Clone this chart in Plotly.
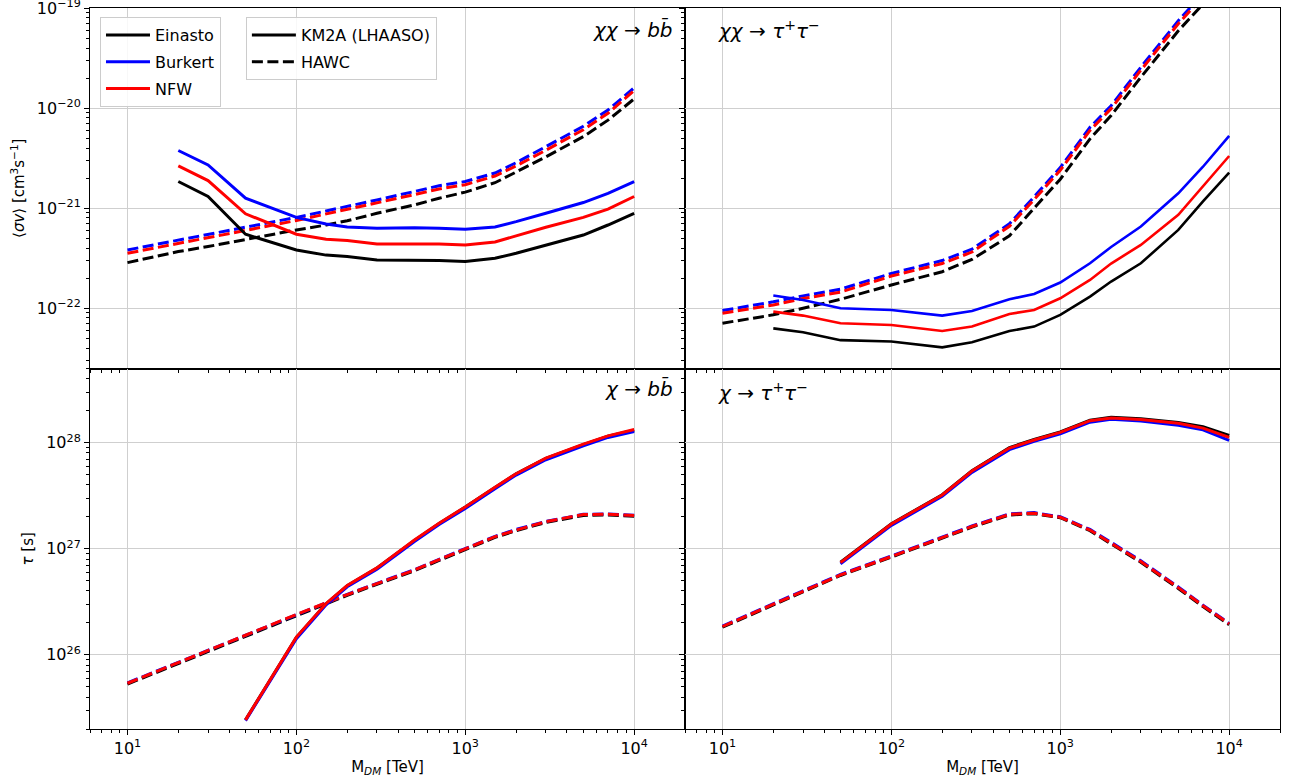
import numpy as np
import plotly.graph_objects as go
from plotly.subplots import make_subplots

# ---------------- data ----------------
# Top-left: chi chi -> b bbar (annihilation cross-section, cm^3 s^-1)
m_ann_bb_km2a = [20, 30, 50, 100, 150, 200, 300, 500, 700, 1000, 1500, 2000, 3000, 5000, 7000, 10000]
ein_ann_bb_km2a = [1.85e-21, 1.31e-21, 5.5e-22, 3.83e-22, 3.4e-22, 3.3e-22, 3.04e-22, 3.04e-22, 3.0e-22,
                   2.93e-22, 3.16e-22, 3.55e-22, 4.3e-22, 5.4e-22, 6.8e-22, 8.9e-22]
bur_ann_bb_km2a = [3.78e-21, 2.71e-21, 1.26e-21, 8.1e-22, 6.97e-22, 6.5e-22, 6.3e-22, 6.4e-22, 6.3e-22,
                   6.17e-22, 6.5e-22, 7.35e-22, 8.9e-22, 1.14e-21, 1.41e-21, 1.85e-21]
nfw_ann_bb_km2a = [2.65e-21, 1.89e-21, 8.8e-22, 5.5e-22, 4.9e-22, 4.75e-22, 4.4e-22, 4.4e-22, 4.4e-22,
                   4.3e-22, 4.6e-22, 5.3e-22, 6.45e-22, 8.1e-22, 9.8e-22, 1.31e-21]
m_ann_bb_hawc = [10, 20, 30, 50, 100, 150, 200, 300, 500, 700, 1000, 1500, 2000, 3000, 5000, 7000, 10000]
ein_ann_bb_hawc = [2.86e-22, 3.69e-22, 4.14e-22, 4.9e-22, 6.07e-22, 6.8e-22, 7.5e-22, 8.9e-22, 1.08e-21,
                   1.26e-21, 1.45e-21, 1.8e-21, 2.31e-21, 3.26e-21, 5.2e-21, 7.6e-21, 1.24e-20]
bur_ann_bb_hawc = [3.83e-22, 4.8e-22, 5.4e-22, 6.45e-22, 8.1e-22, 9.4e-22, 1.04e-21, 1.21e-21, 1.47e-21,
                   1.68e-21, 1.85e-21, 2.25e-21, 2.85e-21, 4.1e-21, 6.6e-21, 9.6e-21, 1.6e-20]
nfw_ann_bb_hawc = [3.55e-22, 4.45e-22, 5.0e-22, 6.0e-22, 7.55e-22, 8.75e-22, 9.7e-22, 1.13e-21, 1.37e-21,
                   1.56e-21, 1.72e-21, 2.1e-21, 2.65e-21, 3.8e-21, 6.1e-21, 8.9e-21, 1.5e-20]

# Top-right: chi chi -> tau+ tau-
m_ann_tt_km2a = [20, 30, 50, 100, 200, 300, 500, 700, 1000, 1500, 2000, 3000, 5000, 7000, 10000]
ein_ann_tt_km2a = [6.3e-23, 5.75e-23, 4.8e-23, 4.65e-23, 4.07e-23, 4.57e-23, 5.93e-23, 6.56e-23, 8.6e-23,
                   1.31e-22, 1.85e-22, 2.82e-22, 6.07e-22, 1.17e-21, 2.27e-21]
bur_ann_tt_km2a = [1.34e-22, 1.21e-22, 1.0e-22, 9.6e-23, 8.45e-23, 9.4e-23, 1.23e-22, 1.39e-22, 1.81e-22,
                   2.82e-22, 4.1e-22, 6.56e-22, 1.41e-21, 2.6e-21, 5.3e-21]
nfw_ann_tt_km2a = [9.26e-23, 8.45e-23, 7.08e-23, 6.8e-23, 5.93e-23, 6.56e-23, 8.77e-23, 9.6e-23, 1.26e-22,
                   1.92e-22, 2.8e-22, 4.3e-22, 8.6e-22, 1.65e-21, 3.33e-21]
m_ann_tt_hawc = [10, 20, 30, 50, 100, 200, 300, 500, 700, 1000, 1500, 2000, 3000, 5000, 7000, 10000]
ein_ann_tt_hawc = [7.1e-23, 8.6e-23, 1.0e-22, 1.23e-22, 1.71e-22, 2.32e-22, 3.08e-22, 5.3e-22, 1.0e-21,
                   1.95e-21, 4.94e-21, 8.45e-21, 2.04e-20, 5.94e-20, 1.1e-19, 2.2e-19]
bur_ann_tt_hawc = [9.5e-23, 1.16e-22, 1.33e-22, 1.55e-22, 2.23e-22, 3.0e-22, 3.9e-22, 7.0e-22, 1.3e-21,
                   2.55e-21, 6.45e-21, 1.06e-20, 2.57e-20, 7.5e-20, 1.4e-19, 2.8e-19]
nfw_ann_tt_hawc = [8.9e-23, 1.08e-22, 1.25e-22, 1.45e-22, 2.1e-22, 2.8e-22, 3.65e-22, 6.6e-22, 1.22e-21,
                   2.4e-21, 6.0e-21, 9.9e-21, 2.4e-20, 7.0e-20, 1.3e-19, 2.6e-19]

# Bottom-left: chi -> b bbar (lifetime, s)
m_dec_bb_km2a = [50, 100, 150, 200, 300, 500, 700, 1000, 1500, 2000, 3000, 5000, 7000, 10000]
ein_dec_bb_km2a = [2.44e25, 1.46e26, 3.03e26, 4.48e26, 6.58e26, 1.2e27, 1.73e27, 2.47e27, 3.78e27, 5.08e27,
                   7.1e27, 9.6e27, 1.15e28, 1.31e28]
bur_dec_bb_km2a = [2.4e25, 1.42e26, 2.96e26, 4.38e26, 6.4e26, 1.17e27, 1.69e27, 2.4e27, 3.68e27, 4.95e27,
                   6.9e27, 9.35e27, 1.12e28, 1.27e28]
nfw_dec_bb_km2a = [2.44e25, 1.47e26, 3.05e26, 4.5e26, 6.6e26, 1.21e27, 1.74e27, 2.48e27, 3.8e27, 5.1e27,
                   7.15e27, 9.7e27, 1.16e28, 1.33e28]
m_dec_bb_hawc = [10, 20, 30, 50, 100, 150, 200, 300, 500, 700, 1000, 1500, 2000, 3000, 5000, 7000, 10000]
ein_dec_bb_hawc = [5.3e25, 8.3e25, 1.07e26, 1.5e26, 2.36e26, 3.05e26, 3.64e26, 4.62e26, 6.2e26, 7.75e26,
                   9.85e26, 1.28e27, 1.48e27, 1.77e27, 2.06e27, 2.08e27, 2.02e27]
bur_dec_bb_hawc = [5.45e25, 8.5e25, 1.1e26, 1.54e26, 2.42e26, 3.12e26, 3.72e26, 4.72e26, 6.35e26, 7.95e26,
                   1.01e27, 1.31e27, 1.52e27, 1.81e27, 2.11e27, 2.13e27, 2.07e27]
nfw_dec_bb_hawc = [5.4e25, 8.4e25, 1.09e26, 1.53e26, 2.4e26, 3.1e26, 3.7e26, 4.7e26, 6.3e26, 7.9e26,
                   1.0e27, 1.3e27, 1.5e27, 1.8e27, 2.1e27, 2.12e27, 2.06e27]

# Bottom-right: chi -> tau+ tau-
m_dec_tt_km2a = [50, 100, 200, 300, 500, 700, 1000, 1500, 2000, 3000, 5000, 7000, 10000]
ein_dec_tt_km2a = [7.45e26, 1.72e27, 3.23e27, 5.45e27, 9.0e27, 1.07e28, 1.26e28, 1.63e28, 1.74e28, 1.68e28,
                   1.55e28, 1.41e28, 1.17e28]
bur_dec_tt_km2a = [7.2e26, 1.66e27, 3.12e27, 5.25e27, 8.6e27, 1.03e28, 1.21e28, 1.56e28, 1.66e28, 1.6e28,
                   1.46e28, 1.32e28, 1.05e28]
nfw_dec_tt_km2a = [7.4e26, 1.71e27, 3.21e27, 5.4e27, 8.9e27, 1.06e28, 1.25e28, 1.61e28, 1.71e28, 1.65e28,
                   1.52e28, 1.37e28, 1.12e28]
m_dec_tt_hawc = [10, 20, 30, 50, 100, 200, 300, 500, 700, 1000, 1500, 2000, 3000, 5000, 7000, 10000]
ein_dec_tt_hawc = [1.82e26, 2.95e26, 3.93e26, 5.6e26, 8.35e26, 1.25e27, 1.6e27, 2.08e27, 2.14e27, 1.96e27,
                   1.48e27, 1.11e27, 7.45e26, 4.22e26, 2.85e26, 1.92e26]
bur_dec_tt_hawc = [1.87e26, 3.03e26, 4.05e26, 5.74e26, 8.55e26, 1.29e27, 1.64e27, 2.13e27, 2.19e27, 2.0e27,
                   1.52e27, 1.15e27, 7.7e26, 4.36e26, 2.94e26, 1.98e26]
nfw_dec_tt_hawc = [1.85e26, 3.0e26, 4.0e26, 5.67e26, 8.45e26, 1.27e27, 1.62e27, 2.11e27, 2.16e27, 1.98e27,
                   1.5e27, 1.13e27, 7.57e26, 4.3e26, 2.9e26, 1.96e26]

profiles = ["Einasto", "Burkert", "NFW"]
colors = {"Einasto": "black", "Burkert": "blue", "NFW": "red"}
detectors = ["KM2A (LHAASO)", "HAWC"]

x_ticks = [10, 100, 1000, 10000]
x_ticktext = ["10<sup>1</sup>", "10<sup>2</sup>", "10<sup>3</sup>", "10<sup>4</sup>"]
y_top_ticks = [1e-22, 1e-21, 1e-20, 1e-19]
y_top_ticktext = ["10<sup>\u221222</sup>", "10<sup>\u221221</sup>", "10<sup>\u221220</sup>", "10<sup>\u221219</sup>"]
y_bot_ticks = [1e26, 1e27, 1e28]
y_bot_ticktext = ["10<sup>26</sup>", "10<sup>27</sup>", "10<sup>28</sup>"]

# ---------------- figure ----------------
fig = make_subplots(rows=2, cols=2, shared_xaxes=True, shared_yaxes=True,
                    horizontal_spacing=0, vertical_spacing=0)

DASH = "11px,4.5px"

panels = [
    (1, 1, m_ann_bb_km2a, [ein_ann_bb_km2a, bur_ann_bb_km2a, nfw_ann_bb_km2a],
     m_ann_bb_hawc, [ein_ann_bb_hawc, bur_ann_bb_hawc, nfw_ann_bb_hawc], 3.0),
    (1, 2, m_ann_tt_km2a, [ein_ann_tt_km2a, bur_ann_tt_km2a, nfw_ann_tt_km2a],
     m_ann_tt_hawc, [ein_ann_tt_hawc, bur_ann_tt_hawc, nfw_ann_tt_hawc], 2.6),
    (2, 1, m_dec_bb_km2a, [ein_dec_bb_km2a, bur_dec_bb_km2a, nfw_dec_bb_km2a],
     m_dec_bb_hawc, [ein_dec_bb_hawc, bur_dec_bb_hawc, nfw_dec_bb_hawc], 3.0),
    (2, 2, m_dec_tt_km2a, [ein_dec_tt_km2a, bur_dec_tt_km2a, nfw_dec_tt_km2a],
     m_dec_tt_hawc, [ein_dec_tt_hawc, bur_dec_tt_hawc, nfw_dec_tt_hawc], 3.0),
]

for (r, c, mk, km2a_sets, mh, hawc_sets, lw) in panels:
    for prof, ys in zip(profiles, hawc_sets):
        fig.add_trace(go.Scatter(x=mh, y=ys, mode="lines",
                                 line=dict(color=colors[prof], width=3, dash=DASH),
                                 showlegend=False, hoverinfo="skip"), row=r, col=c)
    for prof, ys in zip(profiles, km2a_sets):
        first = (r == 1 and c == 1)
        fig.add_trace(go.Scatter(x=mk, y=ys, mode="lines", name=prof,
                                 line=dict(color=colors[prof], width=lw),
                                 showlegend=first, legend="legend", legendgroup=prof,
                                 hoverinfo="skip"), row=r, col=c)

# second legend: detectors (line style only)
for det, dash in zip(detectors, ["solid", DASH]):
    fig.add_trace(go.Scatter(x=[None], y=[None], mode="lines", name=det,
                             line=dict(color="black", width=3, dash=dash),
                             showlegend=True, legend="legend2", legendgroup=det),
                  row=1, col=1)

FONT = "DejaVu Sans"
common_axis = dict(showgrid=True, gridcolor="#cfcfcf", gridwidth=1,
                   ticks="outside", ticklen=5, tickwidth=1, tickcolor="black",
                   showline=True, linecolor="black", linewidth=1, mirror=True,
                   zeroline=False, tickfont=dict(family=FONT, size=16, color="black"),
                   ticklabeloverflow="allow", automargin=False,
                   minor=dict(ticks="outside", ticklen=3, tickwidth=0.8, tickcolor="black",
                              dtick="D1", showgrid=False))

xr = [np.log10(6), np.log10(2e4)]
for r in (1, 2):
    for c in (1, 2):
        fig.update_xaxes(type="log", range=xr, tickmode="array", tickvals=x_ticks,
                         ticktext=x_ticktext, showticklabels=(r == 2), row=r, col=c, **common_axis)
        if r == 1:
            fig.update_yaxes(type="log", range=[np.log10(2.5e-23), -18.998], tickmode="array",
                             tickvals=y_top_ticks, ticktext=y_top_ticktext,
                             showticklabels=(c == 1), row=r, col=c, **common_axis)
        else:
            fig.update_yaxes(type="log", range=[np.log10(2e25), np.log10(5e28)], tickmode="array",
                             tickvals=y_bot_ticks, ticktext=y_bot_ticktext,
                             showticklabels=(c == 1), row=r, col=c, **common_axis)

title_font = dict(family=FONT, size=15, color="black")
fig.update_xaxes(title=dict(text="M<sub><i>DM</i></sub> [TeV]", font=title_font, standoff=4), row=2, col=1)
fig.update_xaxes(title=dict(text="M<sub><i>DM</i></sub> [TeV]", font=title_font, standoff=4), row=2, col=2)
fig.update_yaxes(title=dict(text="\u27e8<i>\u03c3v</i>\u27e9 [cm<sup>3</sup>s<sup>\u22121</sup>]",
                            font=title_font, standoff=8), row=1, col=1)
fig.update_yaxes(title=dict(text="<i>\u03c4</i> [s]", font=title_font, standoff=8), row=2, col=1)

ann_font = dict(family=FONT, size=20, color="black")
fig.add_annotation(text="<i>\u03c7\u03c7</i> \u2192 <i>b</i><i>b\u0304</i>", xref="paper", yref="paper",
                   x=0.4916, y=0.9695, xanchor="right", yanchor="middle", showarrow=False, font=ann_font)
fig.add_annotation(text="<i>\u03c7\u03c7</i> \u2192 <i>\u03c4</i><sup>+</sup><i>\u03c4</i><sup>\u2212</sup>",
                   xref="paper", yref="paper",
                   x=0.526, y=0.9695, xanchor="left", yanchor="middle", showarrow=False, font=ann_font)
fig.add_annotation(text="<i>\u03c7</i> \u2192 <i>b</i><i>b\u0304</i>", xref="paper", yref="paper",
                   x=0.4916, y=0.4716, xanchor="right", yanchor="middle", showarrow=False, font=ann_font)
fig.add_annotation(text="<i>\u03c7</i> \u2192 <i>\u03c4</i><sup>+</sup><i>\u03c4</i><sup>\u2212</sup>",
                   xref="paper", yref="paper",
                   x=0.526, y=0.467, xanchor="left", yanchor="middle", showarrow=False, font=ann_font)

legend_style = dict(bgcolor="rgba(255,255,255,0.85)", bordercolor="#cccccc", borderwidth=1,
                    font=dict(family=FONT, size=16, color="black"),
                    xanchor="left", yanchor="top", traceorder="grouped", tracegroupgap=3,
                    itemwidth=44)

fig.update_layout(
    width=1299, height=784,
    margin=dict(l=90, r=19, t=8, b=55, autoexpand=False),
    paper_bgcolor="white", plot_bgcolor="white",
    font=dict(family=FONT, size=15, color="black"),
    legend=dict(x=0.0084, y=0.9875, **legend_style),
    legend2=dict(x=0.131, y=0.9875, **legend_style),
    hovermode=False,
)

fig.write_html("out.html")
